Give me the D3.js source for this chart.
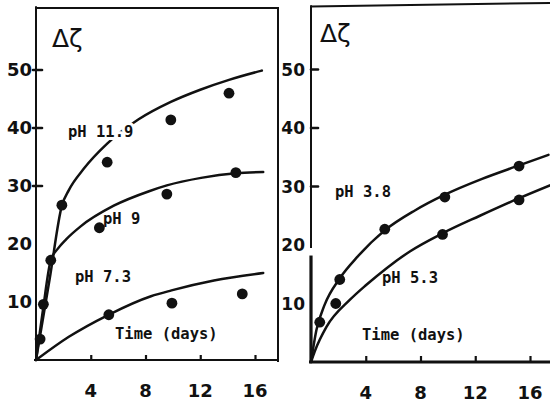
<!DOCTYPE html>
<html>
<head>
<meta charset="utf-8">
<script src="https://cdn.jsdelivr.net/npm/d3@7"></script>
<style>
  body { margin: 0; background: #fff; }
  svg { display: block; }
  .tick-label { font-family: "DejaVu Sans", sans-serif; font-weight: bold; font-size: 18px; fill: #111; }
  .series-label { font-family: "DejaVu Sans Mono", monospace; font-weight: bold; font-size: 15.5px; fill: #111; }
  .halo { paint-order: stroke; stroke: #fff; stroke-width: 6px; stroke-linejoin: round; }
  .title { font-family: "DejaVu Sans", sans-serif; font-size: 25px; fill: #111; }
</style>
</head>
<body>
<svg id="chart" width="550" height="403"></svg>
<script>
// Axis ticks (days on x, change in zeta potential on y)
const xTickValues = [4, 8, 12, 16];
const yTickValues = [10, 20, 30, 40, 50];
const yTickMarks = [30, 40, 50];

// Left panel: measured points [day, value]
const ph119Points = [[0.3, 3.6], [1.89, 26.7], [5.2, 34.1], [9.85, 41.4], [14.1, 46.0]];
const ph9Points   = [[0.54, 9.6], [1.08, 17.2], [4.63, 22.8], [9.56, 28.6], [14.6, 32.3]];
const ph73Points  = [[5.32, 7.8], [9.93, 9.8], [15.07, 11.4]];

// Left panel: hand-fitted curves [day, value]
const ph119Curve = [[0, 0], [1.0, 14], [1.9, 26.7], [2.4, 29.3], [3.5, 33.0], [5.2, 37.3], [7.5, 41.5],
                    [9.85, 44.5], [12, 46.6], [14.1, 48.3], [16.5, 49.9]];
const ph9Curve   = [[0, 0], [0.5, 8.5], [1.08, 17.2], [1.6, 19.2], [2.2, 20.8], [3.24, 23.0], [5.68, 26.6],
                    [8.26, 29.1], [9.56, 30.1], [12.06, 31.4], [14.6, 32.2], [16.6, 32.4]];
const ph73Curve  = [[0, 0], [2.4, 4.0], [5.3, 7.8], [8.4, 11.0], [9.9, 12.0], [13, 13.7], [16.6, 15.0]];

// Right panel: measured points [day, value]
const ph38Points = [[0.64, 6.8], [2.1, 14.1], [5.39, 22.7], [9.78, 28.2], [15.2, 33.5]];
const ph53Points = [[1.81, 10.0], [9.61, 21.8], [15.2, 27.7]];

// Right panel: hand-fitted curves [day, value]
const ph38Curve = [[0, 0], [0.4, 5.5], [1.0, 9.8], [2.1, 14.3], [3.4, 18.0], [5.39, 22.5], [7.59, 25.9],
                   [9.78, 28.6], [12.5, 31.3], [15.2, 33.6], [17.35, 35.4]];
const ph53Curve = [[0, 0], [0.27, 1.8], [1.13, 6.0], [2.83, 10.6], [4.05, 13.2], [5.5, 16.0], [7.22, 18.9],
                   [9.61, 22.0], [12.34, 25.0], [15.2, 28.0], [17.46, 30.2]];

const svg = d3.select("#chart");
const ink = "#111";

function drawPanel(cfg) {
  const x = d3.scaleLinear().domain([0, 16]).range(cfg.xRange);
  const y = d3.scaleLinear().domain([0, 50]).range(cfg.yRange);
  const g = svg.append("g");
  const x0 = x(0), y0 = y(0);

  // frame
  g.append("path")
    .attr("d", cfg.framePath(x, y))
    .attr("fill", "none").attr("stroke", ink).attr("stroke-width", 2);

  // left axis line
  cfg.leftAxis.forEach(seg => {
    g.append("line")
      .attr("x1", x0).attr("x2", x0)
      .attr("y1", y(seg.from)).attr("y2", y(seg.to))
      .attr("stroke", ink).attr("stroke-width", seg.w);
  });

  // bottom axis with ticks pointing inward
  const xAxis = d3.axisTop(x).tickValues(xTickValues).tickSize(cfg.xTickLen).tickFormat("");
  const xa = g.append("g").attr("transform", `translate(0,${y0})`).call(xAxis);
  xa.select(".domain").remove();
  xa.selectAll(".tick line").attr("stroke", ink).attr("stroke-width", 2.2);
  g.append("line")
    .attr("x1", x0 - 2).attr("x2", cfg.bottomEnd)
    .attr("y1", y0).attr("y2", y0)
    .attr("stroke", ink).attr("stroke-width", cfg.bottomW);

  // x tick labels
  g.selectAll(".xl").data(xTickValues).join("text")
    .attr("class", "tick-label")
    .attr("x", d => x(d)).attr("y", y0 + 37)
    .attr("text-anchor", "middle")
    .text(d => d);

  // y tick marks
  g.selectAll(".ym").data(yTickMarks).join("line")
    .attr("x1", x0 + cfg.yTickIn[0]).attr("x2", x0 + cfg.yTickIn[1])
    .attr("y1", d => y(d)).attr("y2", d => y(d))
    .attr("stroke", ink).attr("stroke-width", 2.6).attr("stroke-linecap", "round");

  // y tick labels
  g.selectAll(".yl").data(yTickValues).join("text")
    .attr("class", "tick-label")
    .attr("x", x0 - cfg.yLabelGap).attr("y", d => y(d))
    .attr("dy", "0.36em")
    .attr("text-anchor", "end")
    .style("font-size", cfg.yLabelSize)
    .text(d => d);

  // title
  g.append("text").attr("class", "title")
    .attr("x", cfg.title[0]).attr("y", cfg.title[1])
    .text("Δζ");

  const line = d3.line().x(d => x(d[0])).y(d => y(d[1])).curve(d3.curveMonotoneX);

  cfg.series.forEach(s => {
    g.append("path").datum(s.curve)
      .attr("d", line)
      .attr("fill", "none").attr("stroke", ink).attr("stroke-width", 2.5)
      .attr("stroke-linecap", "round");
  });

  cfg.labels.forEach(l => {
    g.append("text")
      .attr("class", "series-label" + (l.halo ? " halo" : ""))
      .attr("x", l.x).attr("y", l.y)
      .text(l.text);
  });

  cfg.series.forEach(s => {
    g.selectAll(null).data(s.points).join("circle")
      .attr("cx", d => x(d[0])).attr("cy", d => y(d[1]))
      .attr("r", 5.4).attr("fill", ink);
  });
}

drawPanel({
  xRange: [36, 255],
  yRange: [360, 70],
  framePath: (x, y) => `M${x(0)},8 L278,8 L278,362`,
  leftAxis: [{ from: 0, to: 61, w: 2 }],
  xTickLen: 5,
  bottomEnd: 279,
  bottomW: 2.2,
  yTickIn: [-3, 6],
  yLabelGap: 4,
  yLabelSize: "18px",
  title: [52, 47],
  series: [
    { points: ph119Points, curve: ph119Curve },
    { points: ph9Points, curve: ph9Curve },
    { points: ph73Points, curve: ph73Curve }
  ],
  labels: [
    { text: "pH 11.9", x: 68, y: 137, halo: true },
    { text: "pH 9", x: 103, y: 224, halo: false },
    { text: "pH 7.3", x: 75, y: 282, halo: false },
    { text: "Time (days)", x: 115, y: 339, halo: false }
  ]
});

drawPanel({
  xRange: [311, 530],
  yRange: [362, 69.5],
  framePath: (x, y) => `M${x(0)},6.5 L550,3`,
  leftAxis: [{ from: 61, to: 19.5, w: 2 }, { from: 18.2, to: 0, w: 3.2 }],
  xTickLen: 6,
  bottomEnd: 550,
  bottomW: 3,
  yTickIn: [0, 7],
  yLabelGap: 6,
  yLabelSize: "17px",
  title: [320, 42],
  series: [
    { points: ph38Points, curve: ph38Curve },
    { points: ph53Points, curve: ph53Curve }
  ],
  labels: [
    { text: "pH 3.8", x: 335, y: 197, halo: false },
    { text: "pH 5.3", x: 382, y: 283, halo: false },
    { text: "Time (days)", x: 362, y: 340, halo: false }
  ]
});
</script>
</body>
</html>
